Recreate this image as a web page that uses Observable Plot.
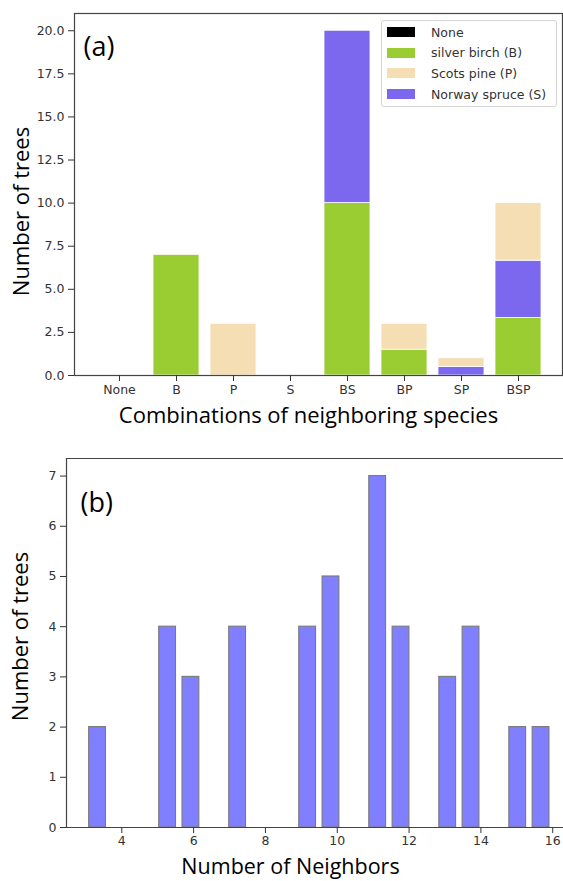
<!DOCTYPE html>
<html><head><meta charset="utf-8">
<script src="https://cdn.jsdelivr.net/npm/d3@7"></script>
<script src="https://cdn.jsdelivr.net/npm/@observablehq/plot@0.6"></script>
<style>
body{margin:0;background:#fff;}
#wrap{position:relative;width:563px;height:881px;overflow:hidden;background:#fff;}
#wrap svg{display:block}
.legend{position:absolute;left:381px;top:20px;width:176px;height:87px;box-sizing:border-box;border:1px solid #d4d4d4;border-radius:3px;background:rgba(255,255,255,0.85);font-family:"DejaVu Sans";font-size:12.5px;color:#333;}
.legend .row{position:absolute;left:5px;height:20px;display:flex;align-items:center;white-space:nowrap;}
.legend .sw{width:28px;height:10px;margin-right:16px;}
</style></head><body><div id="wrap"></div>
<script>
// ---- data: panel (a) ----
const combos = ["None","B","P","S","BS","BP","SP","BSP"];
const speciesNames = ["None","silver birch (B)","Scots pine (P)","Norway spruce (S)"];
const speciesColors = ["#000000","#9acd32","#f5deb3","#7b68ee"];
const noneCounts   = [0,0,0,0,0,0,0,0];
const birchCounts  = [0,7,0,0,10,1.5,0,3.33];
const spruceCounts = [0,0,0,0,10,0,0.5,3.33];
const pineCounts   = [0,0,3,0,0,1.5,0.5,3.34];
const yTicksA = [0,2.5,5,7.5,10,12.5,15,17.5,20];

// ---- data: panel (b) ----
const neighbors  = [3,5,6,7,9,10,11,12,13,14,15,16];
const treeCounts = [2,4,3,4,4,5,7,4,3,4,2,2];
const xTicksB = [4,6,8,10,12,14,16];
const yTicksB = [0,1,2,3,4,5,6,7];

// build stacked table (bottom to top: birch, spruce, pine)
const rowsA = [];
combos.forEach((c, i) => {
  rowsA.push({combo:c, species:speciesNames[0], count:noneCounts[i]});
  rowsA.push({combo:c, species:speciesNames[1], count:birchCounts[i]});
  rowsA.push({combo:c, species:speciesNames[3], count:spruceCounts[i]});
  rowsA.push({combo:c, species:speciesNames[2], count:pineCounts[i]});
});
const rowsAnz = rowsA.filter(d => d.count > 0);

const wrap = document.getElementById("wrap");

const plotA = Plot.plot({
  width:563, height:440,
  marginLeft:74, marginRight:1, marginTop:13, marginBottom:65,
  style:{fontFamily:"DejaVu Sans", fontSize:"12.5px", color:"#333", background:"white"},
  x:{domain:combos, paddingInner:0.2, paddingOuter:0.38, label:null},
  y:{domain:[0,21], label:null},
  color:{domain:speciesNames, range:speciesColors},
  marks:[
    Plot.barY(rowsAnz, Plot.stackY({x:"combo", y:"count", fill:"species", stroke:"white", strokeWidth:0.8})),
    Plot.frame({stroke:"#444", strokeWidth:1.2}),
    Plot.axisX({tickSize:6, tickPadding:4, label:null}),
    Plot.axisY({ticks:yTicksA, tickFormat:d3.format(".1f"), tickSize:6, tickPadding:4, label:null}),
    Plot.text(["(a)"], {frameAnchor:"top-left", dx:9, dy:42.5, textAnchor:"start", lineAnchor:"bottom", fontSize:27, fontFamily:"Open Sans", fill:"#000"}),
    Plot.text(["Combinations of neighboring species"], {frameAnchor:"bottom", dx:-10, dy:47, textAnchor:"middle", lineAnchor:"bottom", fontSize:22, fontFamily:"Open Sans", fill:"#000"}),
    Plot.text(["Number of trees"], {frameAnchor:"left", rotate:-90, dx:-46, dy:17, textAnchor:"middle", lineAnchor:"bottom", fontSize:22, fontFamily:"Open Sans", fill:"#000"})
  ]
});
wrap.appendChild(plotA);

// legend for panel (a)
const leg = document.createElement("div");
leg.className = "legend";
const rowCenters = [11, 31.6, 52.3, 73];
speciesNames.forEach((name, i) => {
  const r = document.createElement("div");
  r.className = "row";
  r.style.top = (rowCenters[i] - 10) + "px";
  const sw = document.createElement("div");
  sw.className = "sw";
  sw.style.background = speciesColors[i];
  const t = document.createElement("span");
  t.textContent = name;
  r.appendChild(sw); r.appendChild(t);
  leg.appendChild(r);
});
wrap.appendChild(leg);

// histogram bins for panel (b): 20 bins between min and max, rwidth 0.72
const nBins = 20, rwidth = 0.72;
const lo = d3.min(neighbors), hi = d3.max(neighbors);
const bw = (hi - lo) / nBins;
const histB = neighbors.map((v, i) => {
  const k = Math.min(nBins - 1, Math.floor((v - lo) / bw + 1e-9));
  const start = lo + k * bw + bw * (1 - rwidth) / 2;
  return {x1:start, x2:start + bw * rwidth, count:treeCounts[i]};
});

const plotB = Plot.plot({
  width:563, height:441,
  marginLeft:66, marginRight:0, marginTop:18, marginBottom:54,
  style:{fontFamily:"DejaVu Sans", fontSize:"12.5px", color:"#333", background:"white"},
  x:{domain:[2.46, 16.30], label:null},
  y:{domain:[0,7.35], label:null},
  marks:[
    Plot.rectY(histB, {x1:"x1", x2:"x2", y:"count", fill:"#7f7fff", stroke:"#7a7a7a", strokeWidth:1.1}),
    Plot.frame({anchor:"top", stroke:"#444", strokeWidth:1.2}),
    Plot.frame({anchor:"left", stroke:"#444", strokeWidth:1.2}),
    Plot.frame({anchor:"bottom", stroke:"#444", strokeWidth:1.2}),
    Plot.axisX({ticks:xTicksB, tickFormat:d3.format("d"), tickSize:6, tickPadding:3, label:null}),
    Plot.axisY({ticks:yTicksB, tickFormat:d3.format("d"), tickSize:6, tickPadding:4, label:null}),
    Plot.text(["(b)"], {frameAnchor:"top-left", dx:14, dy:53.5, textAnchor:"start", lineAnchor:"bottom", fontSize:27, fontFamily:"Open Sans", fill:"#000"}),
    Plot.text(["Number of Neighbors"], {frameAnchor:"bottom", dx:-24.5, dy:46.5, textAnchor:"middle", lineAnchor:"bottom", fontSize:21.5, fontFamily:"Open Sans", fill:"#000"}),
    Plot.text(["Number of trees"], {frameAnchor:"left", rotate:-90, dx:-39, dy:-6.5, textAnchor:"middle", lineAnchor:"bottom", fontSize:22, fontFamily:"Open Sans", fill:"#000"})
  ]
});
wrap.appendChild(plotB);
</script>
</body></html>
